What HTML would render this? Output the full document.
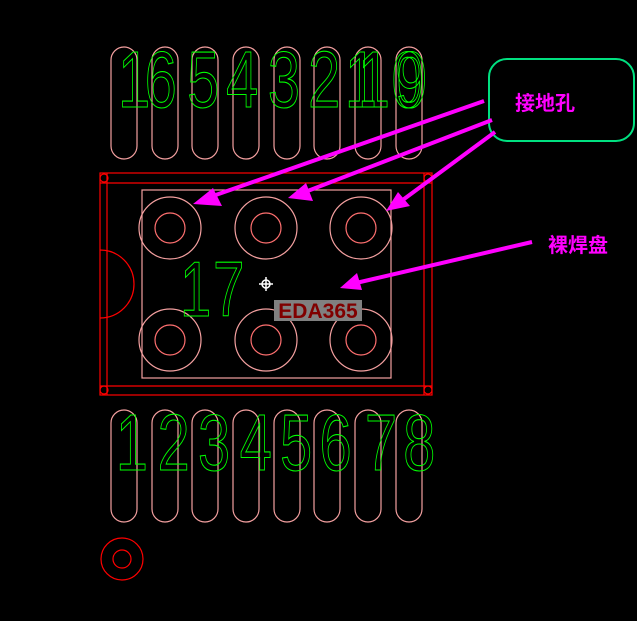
<!DOCTYPE html>
<html><head><meta charset="utf-8"><style>
html,body{margin:0;padding:0;background:#000;}
svg{display:block;}
</style></head><body>
<svg width="637" height="621" viewBox="0 0 637 621" xmlns="http://www.w3.org/2000/svg">
<rect width="637" height="621" fill="#000"/>
<g fill="none" stroke="#f4a0a0" stroke-width="1.2">
<rect x="111" y="47" width="26" height="112" rx="13"/>
<rect x="152" y="47" width="26" height="112" rx="13"/>
<rect x="192" y="47" width="26" height="112" rx="13"/>
<rect x="233" y="47" width="26" height="112" rx="13"/>
<rect x="274" y="47" width="26" height="112" rx="13"/>
<rect x="314" y="47" width="26" height="112" rx="13"/>
<rect x="355" y="47" width="26" height="112" rx="13"/>
<rect x="396" y="47" width="26" height="112" rx="13"/>
<rect x="111" y="410" width="26" height="112" rx="13"/>
<rect x="152" y="410" width="26" height="112" rx="13"/>
<rect x="192" y="410" width="26" height="112" rx="13"/>
<rect x="233" y="410" width="26" height="112" rx="13"/>
<rect x="274" y="410" width="26" height="112" rx="13"/>
<rect x="314" y="410" width="26" height="112" rx="13"/>
<rect x="355" y="410" width="26" height="112" rx="13"/>
<rect x="396" y="410" width="26" height="112" rx="13"/>
<rect x="142" y="190" width="249" height="188"/>
</g>
<g fill="none" stroke="#ff0000" stroke-width="1.2">
<rect x="100" y="173" width="332" height="222"/>
<line x1="100" y1="183" x2="432" y2="183"/>
<line x1="100" y1="386" x2="432" y2="386"/>
<line x1="107" y1="173" x2="107" y2="395"/>
<line x1="424" y1="173" x2="424" y2="395"/>
<circle cx="104" cy="178" r="4"/><circle cx="428" cy="178" r="4"/>
<circle cx="104" cy="390" r="4"/><circle cx="428" cy="390" r="4"/>
<path d="M100 250 A34 34 0 0 1 100 318"/>
<circle cx="122" cy="559" r="21"/>
<circle cx="122" cy="559" r="9"/>
</g>
<g fill="none">
<g stroke="#f4a0a0" stroke-width="1.2">
<circle cx="170" cy="228" r="31"/><circle cx="266" cy="228" r="31"/><circle cx="361" cy="228" r="31"/>
<circle cx="170" cy="340" r="31"/><circle cx="266" cy="340" r="31"/><circle cx="361" cy="340" r="31"/>
</g>
<g stroke="#ff7070" stroke-width="1.2">
<circle cx="170" cy="228" r="15"/><circle cx="266" cy="228" r="15"/><circle cx="361" cy="228" r="15"/>
<circle cx="170" cy="340" r="15"/><circle cx="266" cy="340" r="15"/><circle cx="361" cy="340" r="15"/>
</g>
</g>
<g fill="none" stroke="#00ff00" stroke-width="1.1" font-family="Liberation Sans, sans-serif" font-size="80" transform="scale(0.72,1)">
<text x="164" y="107">1</text>
<text x="201" y="107">6</text>
<text x="260" y="107">5</text>
<text x="314" y="107">4</text>
<text x="372" y="107">3</text>
<text x="428" y="107">2</text>
<text x="479" y="107">1</text>
<text x="497" y="107">1</text>
<text x="544" y="107">0</text>
<text x="549" y="107">9</text>
<text x="161" y="470">1</text>
<text x="219" y="470">2</text>
<text x="275" y="470">3</text>
<text x="333" y="470">4</text>
<text x="389" y="470">5</text>
<text x="444" y="470">6</text>
<text x="507" y="470">7</text>
<text x="560" y="470">8</text>
<text x="250" y="316" font-size="78">1</text>
<text x="296" y="316" font-size="78">7</text>
</g>
<g stroke="#fff" stroke-width="1.5" fill="none">
<circle cx="266" cy="284" r="4"/>
<line x1="259" y1="284" x2="273" y2="284"/><line x1="266" y1="277" x2="266" y2="291"/>
</g>
<rect x="274" y="300" width="88" height="21" fill="#808080"/>
<text x="318" y="318" text-anchor="middle" font-family="Liberation Sans, sans-serif" font-weight="bold" font-size="21" fill="#800000">EDA365</text>
<rect x="489" y="59" width="145" height="82" rx="18" fill="none" stroke="#00e080" stroke-width="2"/>
<text x="515" y="110" font-family="Liberation Sans, 'Noto Sans CJK SC', sans-serif" font-weight="bold" font-size="20" fill="#ff00ff">接地孔</text>
<text x="548" y="252" font-family="Liberation Sans, 'Noto Sans CJK SC', sans-serif" font-weight="bold" font-size="20" fill="#ff00ff">裸焊盘</text>
<g stroke="#ff00ff" stroke-width="4" fill="#ff00ff">
<line x1="484" y1="101" x2="210" y2="197"/>
<line x1="492" y1="120" x2="305" y2="192"/>
<line x1="495" y1="132" x2="400" y2="202"/>
<line x1="532" y1="242" x2="356" y2="283"/>
</g>
<g fill="#ff00ff">
<polygon points="193,204 213,188 222,206"/>
<polygon points="288,198 306,183 313,201"/>
<polygon points="386,211 398,192 410,206"/>
<polygon points="340,288 357,273 362,290"/>
</g>
</svg>
</body></html>
